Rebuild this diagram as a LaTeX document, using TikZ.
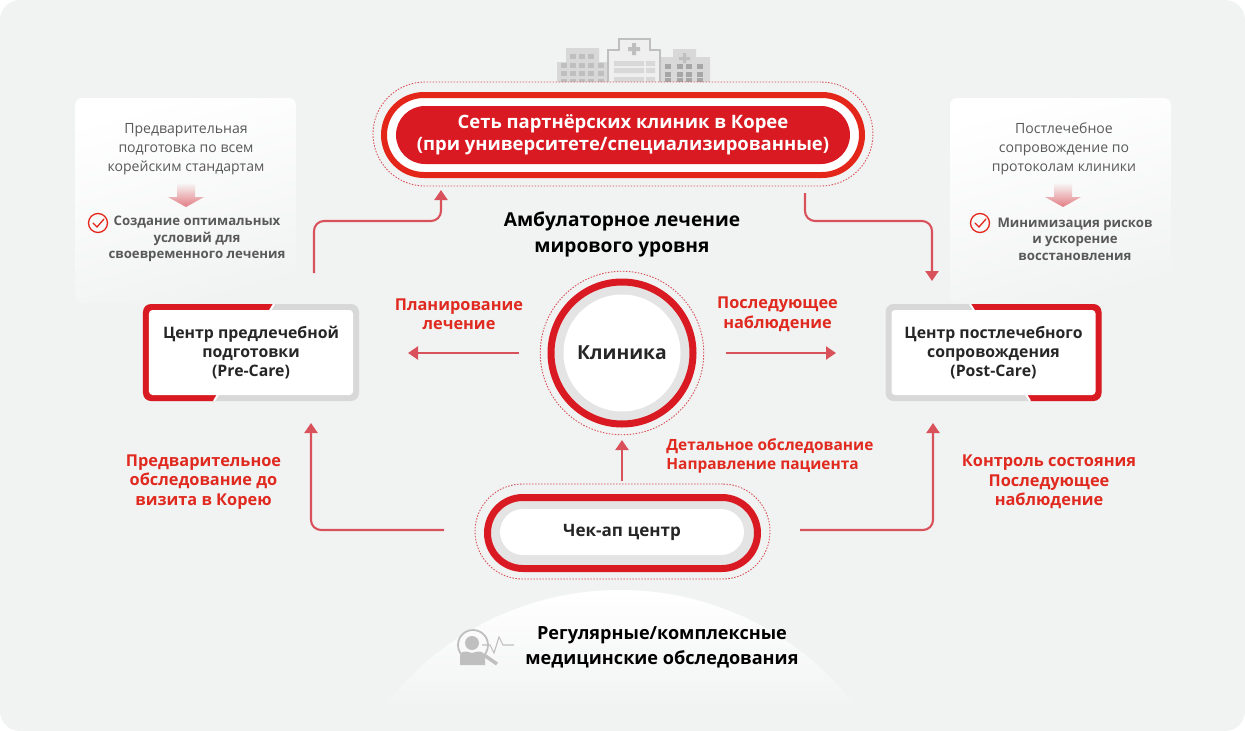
\documentclass[tikz,border=0pt]{standalone}
\usepackage{fontspec}
\setmainfont{Open Sans}
\usetikzlibrary{arrows.meta,positioning,calc}
\definecolor{bgc}{HTML}{F1F3F2}
\definecolor{ringred}{HTML}{DA1A22}
\definecolor{outred}{HTML}{E32619}
\definecolor{labred}{HTML}{E0291F}
\definecolor{linered}{HTML}{D9515B}
\definecolor{ringgray}{HTML}{E4E4E4}
\definecolor{edgegray}{HTML}{D8D8D8}
\definecolor{iconc}{HTML}{BFBFBF}
\tikzset{
 dotring/.style={draw=linered,line width=.18mm,dash pattern=on .3mm off .3mm},
 panel/.style={rounded corners=1.4mm,top color=white,bottom color=bgc,shading angle=15},
 arr/.style={-{Triangle[length=2mm,width=2.6mm]},draw=linered,line width=.42mm},
 elbow/.style={arr,rounded corners=2mm},
 redlab/.style={align=center,inner sep=0pt,text=labred,font=\bfseries\fontsize{9.3}{11.1}\selectfont},
 paneltxt/.style={align=center,inner sep=0pt,text=black!65,font=\fontsize{8}{10.8}\selectfont},
 panelgoal/.style={align=center,inner sep=0pt,text=black!65,font=\bfseries\fontsize{7.5}{9.35}\selectfont},
 carebase/.style={rectangle,minimum width=43.2mm,minimum height=19.4mm,rounded corners=1.6mm,fill=edgegray,inner sep=0pt},
 careface/.style={rectangle,fill=white,minimum width=40.8mm,minimum height=17mm,rounded corners=.7mm,align=center,inner sep=0pt,text=black!85,font=\bfseries\fontsize{9}{10.8}\selectfont},
 tick/.style={draw=outred,line width=.26mm}
}
\begin{document}
\begin{tikzpicture}[x=.2mm,y=-.2mm]
\useasboundingbox (0,0) rectangle (1245,731);
\fill[white] (0,0) rectangle (1245,731);
\fill[bgc,rounded corners=4mm] (0,0) rectangle (1245,731);

% hill and scanner
\begin{scope}
\clip (620,887) circle[radius=297] ;
\clip (370,590) rectangle (870,703);
\shade[top color=white,bottom color=bgc] (370,590) rectangle (870,712);
\end{scope}
\draw[iconc,line width=.36mm] (473,645) circle[radius=15];
\draw[iconc,line width=.7mm] (484,655)--(497,664);
\fill[iconc] (472,643) circle[radius=7];
\fill[iconc] (460,665)--(460,656) .. controls (461,650) and (466,651) .. (472,653) .. controls (478,651) and (483,650) .. (485,656)--(485,665)--cycle;
\draw[iconc,line width=.22mm] (482,645)--(490,645)--(494,653)--(499,637)--(503,645)--(514,645);

% hospital buildings
\begin{scope}[shift={(4,0)}]
\fill[edgegray] (562,48) rectangle (595,62) (553,62) rectangle (603,82);
\foreach \wy/\wh in {54/5,63/5,71/5,79/3} {
 \foreach \wx in {566,575,584} \fill[iconc] (\wx,\wy) rectangle ++(6,\wh);
}
\foreach \wy/\wh in {63/5,71/5,79/3} {
 \foreach \wx in {557,594} \fill[iconc] (\wx,\wy) rectangle ++(6,\wh);
}
\filldraw[fill=ringgray!60,draw=iconc,line width=.25mm] (604,82)--(604,50)--(615,50)--(615,39)--(646,39)--(646,50)--(656,50)--(656,82);
\fill[iconc] (628,43) rectangle (632,55) (624,47) rectangle (636,51);
\foreach \wy/\wh in {61/5,68/5,77/5} {
 \fill[edgegray] (610,\wy) rectangle (640,\wy+\wh) (642,\wy) rectangle (651,\wy+\wh);
}
\fill[edgegray] (669,49) rectangle (692,57) (657,57) rectangle (706,82);
\fill[iconc] (679,53) rectangle (682,63) (675,57) rectangle (686,60);
\foreach \wy/\wh in {64/5,72/5,78/4} {
 \foreach \wx in {661,673,682,693} \fill[black!35] (\wx,\wy) rectangle ++(6,\wh);
}
\end{scope}

% side panels
\path[panel] (75,98) rectangle (296,303);
\path[panel] (950,98) rectangle (1171,303);
\node[paneltxt] (pretxt) at (186,149) {Предварительная\\подготовка по всем\\корейским стандартам};
\node[paneltxt] (posttxt) at (1064,149) {Постлечебное\\сопровождение по\\протоколам клиники};
\foreach \cx in {186,1063} {
 \shade[top color=bgc!60!white,bottom color=linered!75] (\cx-9,183)--(\cx+9,183)--(\cx+9,197)--(\cx+18,197)--(\cx,207)--(\cx-18,197)--(\cx-9,197)--cycle;
}
\node[panelgoal] (pregoal) at (197,239) {Создание оптимальных\\условий для\\своевременного лечения};
\node[panelgoal] (postgoal) at (1075,239) {Минимизация рисков\\и ускорение\\восстановления};
\node[circle,tick,minimum size=3.8mm,inner sep=0pt] (precheck) at (98,223) {};
\draw[tick,line cap=round] (93,223)--(97,227)--(104,219);
\node[circle,tick,minimum size=3.8mm,inner sep=0pt] (postcheck) at (980,223) {};
\draw[tick,line cap=round] (975,223)--(979,227)--(986,219);

% network pill
\node[dotring,fill=bgc,rectangle,minimum width=100mm,minimum height=20.8mm,rounded corners=10.4mm,inner sep=0pt] (networkdots) at (623,134) {};
\node[draw=outred,fill=white,line width=1.2mm,minimum width=95.6mm,minimum height=16mm,rounded corners=8mm,inner sep=0pt] (networkring) at (623,135) {};
\node[fill=ringred,minimum width=90.8mm,minimum height=11.6mm,rounded corners=5.8mm,inner sep=0pt,align=center,text=white,font=\bfseries\fontsize{10.5}{12.5}\selectfont] (network) at (623,135) {Сеть партнёрских клиник в Корее\\(при университете/специализированные)};
\node[align=center,inner sep=0pt,text=black,font=\bfseries\fontsize{10.9}{14.8}\selectfont] (worldclass) at (622,234.5) {Амбулаторное лечение\\мирового уровня};

% clinic
\node[dotring,circle,minimum size=32.7mm,inner sep=0pt] (clinicdots) at (622,353) {};
\node[circle,draw=ringred,fill=ringgray,line width=1.4mm,minimum size=28.4mm,inner sep=0pt] (clinicring) at (622,353) {};
\node[circle,fill=white,minimum size=23.4mm,inner sep=0pt,text=black!85,font=\bfseries\fontsize{11}{13}\selectfont] (clinic) at (622,353) {Клиника};

% pre-care box
\node[carebase] (prebase) at (251,352.5) {};
\begin{scope}
\clip (130,295)--(278.6,295)--(208.4,410)--(130,410)--cycle;
\node[carebase,fill=ringred] at (251,352.5) {};
\end{scope}
\draw[bgc!30!white,line width=.4mm] (274,304)--(214,401);
\node[careface] (precare) at (251,352.5) {Центр предлечебной\\подготовки\\(Pre-Care)};

% post-care box
\node[carebase] (postbase) at (993.5,352.5) {};
\begin{scope}
\clip (964.4,295)--(1115,295)--(1115,410)--(1035.6,410)--cycle;
\node[carebase,fill=ringred] at (993.5,352.5) {};
\end{scope}
\draw[bgc!30!white,line width=.4mm] (970,304)--(1030,401);
\node[careface] (postcare) at (993.5,352.5) {Центр постлечебного\\сопровождения\\(Post-Care)};

% check-up pill
\node[dotring,rectangle,minimum width=59mm,minimum height=19mm,rounded corners=9.5mm,inner sep=0pt] (checkdots) at (622.5,531.5) {};
\node[draw=ringred,fill=ringgray,line width=1.4mm,minimum width=54mm,minimum height=14.2mm,rounded corners=7.1mm,inner sep=0pt] (checkring) at (622.5,533) {};
\node[fill=white,minimum width=48.8mm,minimum height=9.2mm,rounded corners=4.6mm,inner sep=0pt,text=black!85,font=\bfseries\fontsize{9.7}{11}\selectfont] (checkup) at (622,532) {Чек-ап центр};

% labels
\node[redlab] (planlab) at (459,314) {Планирование\\лечение};
\node[redlab] (followlab) at (777.5,314.5) {Последующее\\наблюдение};
\node[redlab] (prelab) at (203.5,482) {Предварительное\\обследование до\\визита в Корею};
\node[redlab] (postlab) at (1049,482) {Контроль состояния\\Последующее\\наблюдение};
\node[redlab,align=left,anchor=west,font=\bfseries\fontsize{8.8}{10.5}\selectfont] (detaillab) at (666,456) {Детальное обследование\\Направление пациента};
\node[align=center,inner sep=0pt,text=black,font=\bfseries\fontsize{10.3}{14.2}\selectfont] (regular) at (662,647) {Регулярные/комплексные\\медицинские обследования};

% connectors
\coordinate (preout) at (314,273);
\coordinate (preturn) at (441,221);
\coordinate (netin) at (441,190);
\coordinate (netout) at (805,193);
\coordinate (postturn) at (932,221);
\coordinate (postin) at (932,281);
\coordinate (checkleft) at (444,530);
\coordinate (checkright) at (800,530);
\coordinate (leftturn) at (311,530);
\coordinate (rightturn) at (933,530);
\coordinate (prein) at (311,423);
\coordinate (postup) at (933,423);
\coordinate (clinicleft) at (519,353);
\coordinate (clinicright) at (726,353);
\coordinate (planin) at (408,353);
\coordinate (followin) at (836,353);
\coordinate (checkbottom) at (622,481);
\coordinate (clinicin) at (622,440);
\draw[elbow] (preout) |- (preturn) -- (netin);
\draw[elbow] (netout) |- (postturn) -- (postin);
\draw[elbow] (checkleft) -- (leftturn) -- (prein);
\draw[elbow] (checkright) -- (rightturn) -- (postup);
\draw[arr] (clinicleft) -- (planin);
\draw[arr] (clinicright) -- (followin);
\draw[arr] (checkbottom) -- (clinicin);
\end{tikzpicture}
\end{document}
